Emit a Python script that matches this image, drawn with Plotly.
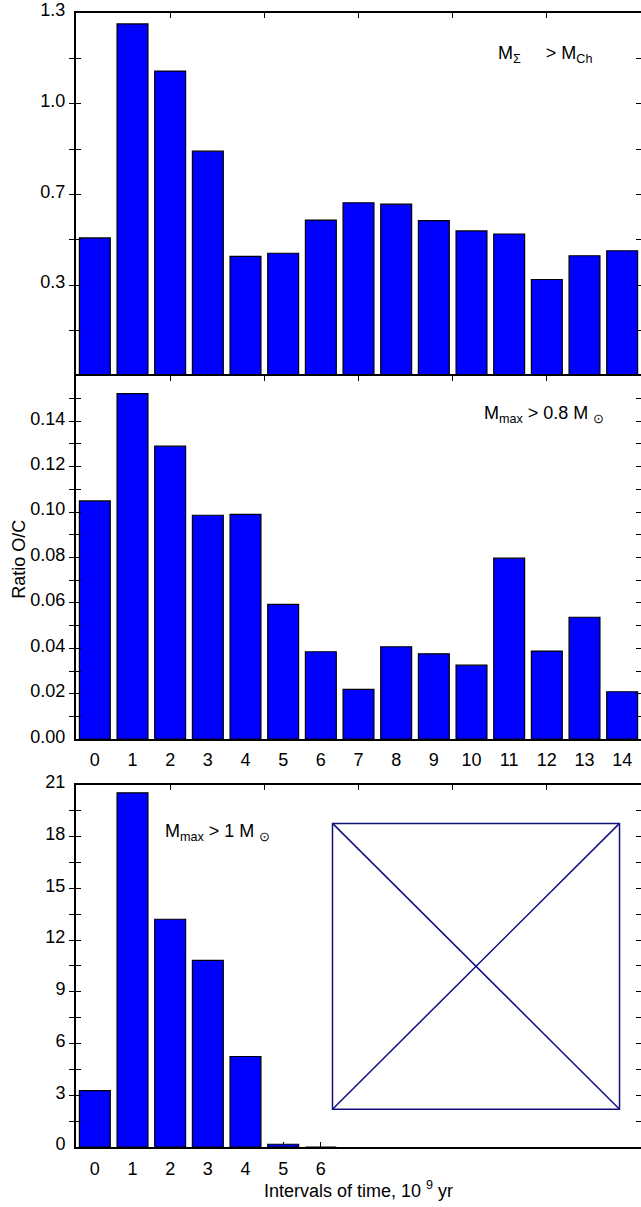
import plotly.graph_objects as go

# ---------------- data ----------------
intervals_all = list(range(15))
intervals_short = list(range(7))
ratio_msum_gt_mch = [0.494, 1.261, 1.092, 0.805, 0.428, 0.439, 0.558, 0.620,
                     0.615, 0.556, 0.519, 0.508, 0.345, 0.430, 0.448]
ratio_mmax_gt_08 = [0.1049, 0.1521, 0.1290, 0.0986, 0.0990, 0.0594, 0.0385, 0.0219,
                    0.0407, 0.0376, 0.0326, 0.0797, 0.0388, 0.0537, 0.0209]
ratio_mmax_gt_1 = [3.27, 20.54, 13.21, 10.83, 5.25, 0.16, 0.0]

top_tickvals = [round(0.1625 * k, 4) for k in range(1, 9)]
top_ticktext = ["", "0.3", "", "0.7", "", "1.0", "", "1.3"]
mid_tickvals = [round(0.01 * k, 4) for k in range(0, 17)]
mid_ticktext = [("%.2f" % (0.01 * k)) if (k % 2 == 0 and k <= 14) else "" for k in range(0, 17)]
bot_tickvals = [round(1.5 * k, 4) for k in range(0, 15)]
bot_ticktext = [str(int(1.5 * k)) if k % 2 == 0 else "" for k in range(0, 15)]
top_xticks = [2, 4.5, 7, 9.5, 12]

# ---------------- layout constants ----------------
W, H = 643, 1207          # 2 px wider than the window: right frame falls just off-screen
ML, MR, MT, MB = 76, 0, 6, 60
PW, PH = W - ML - MR, H - MT - MB
XR = [-0.5, 14.5]
FONT = "Liberation Sans, Arial, Helvetica, sans-serif"
FS = 18
BLUE = "#0000ff"
NAVY = "#10107f"


def px(x):
    return (x - ML) / PW


def py(y):
    return 1 - (y - MT) / PH


fig = go.Figure()

bar_style = dict(marker=dict(color=BLUE, line=dict(color="black", width=1.2)),
                 width=0.82, showlegend=False, hoverinfo="x+y")

fig.add_trace(go.Bar(x=intervals_all, y=ratio_msum_gt_mch, xaxis="x", yaxis="y", **bar_style))
fig.add_trace(go.Bar(x=intervals_all, y=ratio_mmax_gt_08, xaxis="x2", yaxis="y2", **bar_style))
fig.add_trace(go.Bar(x=intervals_short, y=ratio_mmax_gt_1, xaxis="x3", yaxis="y3", **bar_style))

# empty traces so the top (overlay) axes are drawn
for ax, ya in (("x4", "y"), ("x5", "y2"), ("x6", "y3")):
    fig.add_trace(go.Scatter(x=[], y=[], xaxis=ax, yaxis=ya, showlegend=False, hoverinfo="skip"))

dom_top = [py(371), 1]
dom_mid = [py(736.7), py(371)]
dom_bot = [0, py(782.7)]

tickfont = dict(family=FONT, size=FS, color="black")
common_x = dict(range=XR, showgrid=False, zeroline=False, linecolor="black",
                linewidth=2, ticks="inside", ticklen=5, tickwidth=1.3, tickcolor="black",
                layer="below traces", tickfont=tickfont)
common_y = dict(showgrid=False, zeroline=False, showline=True, linecolor="black", linewidth=2,
                ticks="inside", ticklen=5, tickwidth=1.3, tickcolor="black", mirror="allticks",
                tickmode="array", tickfont=tickfont, ticklabelshift=-3, ticklabelstandoff=5)
top_x = dict(range=XR, showgrid=False, zeroline=False, showline=True, linecolor="black",
             linewidth=2, ticks="inside", ticklen=5, tickwidth=1.3, tickcolor="black",
             side="top", tickmode="array", tickvals=top_xticks, showticklabels=False)

fig.update_layout(
    width=W, height=H, margin=dict(l=ML, r=MR, t=MT, b=MB),
    paper_bgcolor="white", plot_bgcolor="white",
    font=dict(family=FONT, size=FS, color="black"),
    barmode="overlay", showlegend=False,
    xaxis=dict(anchor="y", tickmode="array", tickvals=intervals_all, showticklabels=False,
               showline=False, **common_x),
    xaxis2=dict(anchor="y2", tickmode="array", tickvals=intervals_all, showline=True,
                ticktext=[str(v) for v in intervals_all], ticklabelstandoff=3, **common_x),
    xaxis3=dict(anchor="y3", tickmode="array", tickvals=intervals_short, showline=True,
                ticktext=[str(v) for v in intervals_short], ticklabelstandoff=4, **common_x),
    xaxis4=dict(overlaying="x", anchor="y", **top_x),
    xaxis5=dict(overlaying="x2", anchor="y2", **top_x),
    xaxis6=dict(overlaying="x3", anchor="y3", **top_x),
    yaxis=dict(domain=dom_top, anchor="x", range=[0, 1.3], tickvals=top_tickvals,
               ticktext=top_ticktext, **common_y),
    yaxis2=dict(domain=dom_mid, anchor="x2", range=[0, 0.16], tickvals=mid_tickvals,
                ticktext=mid_ticktext, **common_y),
    yaxis3=dict(domain=dom_bot, anchor="x3", range=[0, 21], tickvals=bot_tickvals,
                ticktext=bot_ticktext, **common_y),
)

ann_font = dict(family=FONT, size=FS, color="black")
nb = "\u00a0"
fig.add_annotation(xref="paper", yref="paper", x=px(497), y=py(48), xanchor="left", yanchor="middle",
                   text="M<sub>Σ</sub>" + nb * 5 + "> M<sub>Ch</sub>", showarrow=False, font=ann_font)
fig.add_annotation(xref="paper", yref="paper", x=px(483), y=py(410), xanchor="left", yanchor="middle",
                   text="M<sub>max</sub> > 0.8 M" + nb + "<sub>⊙</sub>", showarrow=False, font=ann_font)
fig.add_annotation(xref="paper", yref="paper", x=px(163), y=py(831), xanchor="left", yanchor="middle",
                   text="M<sub>max</sub> > 1 M" + nb + "<sub>⊙</sub>", showarrow=False, font=ann_font)
fig.add_annotation(xref="paper", yref="paper", x=px(18), y=py(556), xanchor="center", yanchor="middle",
                   text="Ratio O/C", textangle=-90, showarrow=False, font=ann_font)
fig.add_annotation(xref="paper", yref="paper", x=px(359), y=py(1190), xanchor="center", yanchor="middle",
                   text="Intervals of time, 10" + nb + "<sup>9</sup>" + nb + "yr", showarrow=False,
                   font=ann_font)

# crossed-out placeholder box in the bottom panel
bx0, bx1, by0, by1 = 6.31, 13.93, 2.19, 18.77
line_style = dict(color=NAVY, width=1.5)
fig.add_shape(type="rect", xref="x3", yref="y3", x0=bx0, x1=bx1, y0=by0, y1=by1, line=line_style)
fig.add_shape(type="line", xref="x3", yref="y3", x0=bx0, x1=bx1, y0=by0, y1=by1, line=line_style)
fig.add_shape(type="line", xref="x3", yref="y3", x0=bx0, x1=bx1, y0=by1, y1=by0, line=line_style)

fig.write_html("out.html", config={"displayModeBar": False},
               post_script="document.body.style.margin='0';document.body.style.overflow='hidden';")
